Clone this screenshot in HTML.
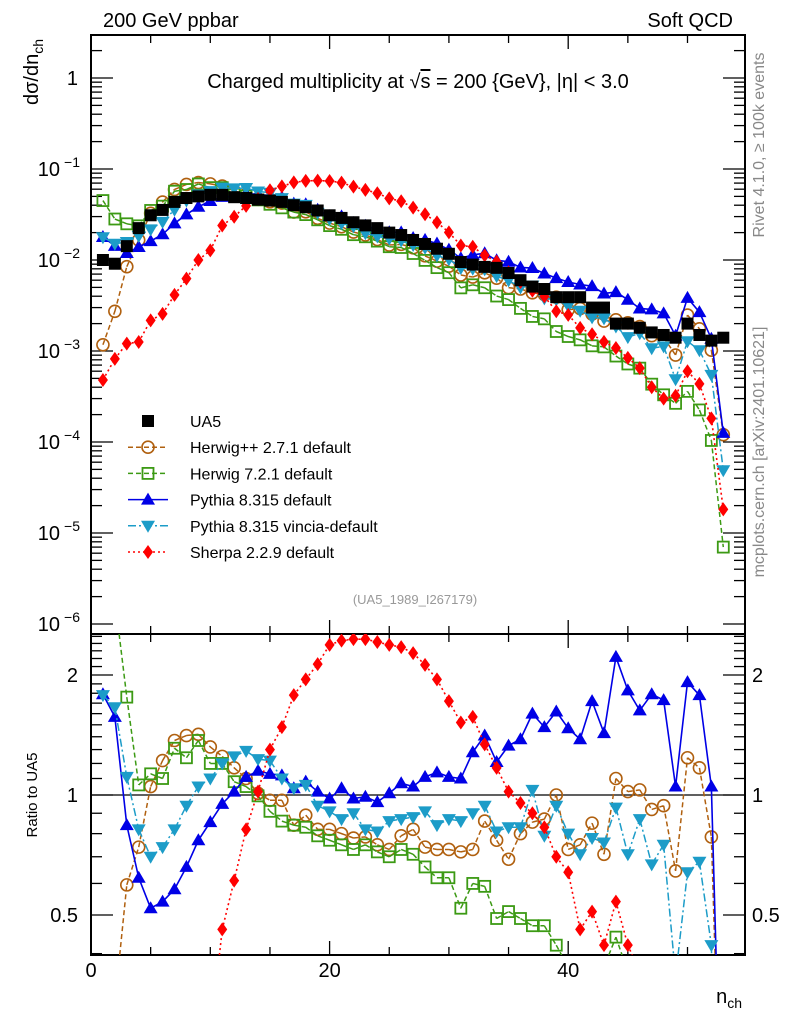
<!DOCTYPE html>
<html><head><meta charset="utf-8"><style>
html,body{margin:0;padding:0;background:#fff;width:786px;height:1024px;overflow:hidden}
svg{display:block;font-family:"Liberation Sans",sans-serif}
</style></head><body>
<svg id="chart" width="786" height="1024" viewBox="0 0 786 1024" xmlns="http://www.w3.org/2000/svg">
<defs>
<clipPath id="cm"><rect x="91" y="35" width="654" height="599"/></clipPath>
<clipPath id="cr"><rect x="91" y="634" width="654" height="321"/></clipPath>
</defs>
<text x="103" y="27" font-size="20">200 GeV ppbar</text>
<text x="733" y="27" font-size="20" text-anchor="end">Soft QCD</text>
<text x="418" y="88" font-size="20" text-anchor="middle">Charged multiplicity at √<tspan text-decoration="overline">s</tspan> = 200 {GeV}, |η| &lt; 3.0</text>
<text transform="translate(38,72) rotate(-90)" font-size="20" text-anchor="middle">dσ/dn<tspan font-size="14" dy="5">ch</tspan></text>
<text transform="translate(37,795) rotate(-90)" font-size="15" text-anchor="middle">Ratio to UA5</text>
<text transform="translate(764,145) rotate(-90)" font-size="16" fill="#888" text-anchor="middle">Rivet 4.1.0, ≥ 100k events</text>
<text transform="translate(764,452) rotate(-90)" font-size="16" fill="#888" text-anchor="middle">mcplots.cern.ch [arXiv:2401.10621]</text>
<text x="415" y="604" font-size="13" fill="#999" text-anchor="middle">(UA5_1989_I267179)</text>
<text x="742" y="1003" font-size="20" text-anchor="end">n<tspan font-size="14" dy="5">ch</tspan></text>
<g id="axes"></g>
<g id="main" clip-path="url(#cm)"></g>
<g id="ratio" clip-path="url(#cr)"></g>
<g id="legend"></g>
</svg>
<script>
const nVals = [];
for (let i = 1; i <= 53; i++) nVals.push(i);
const ua5 = [.0100,.0091,.0142,.0224,.031,.0355,.0435,.048,.050,.052,
.052,.049,.048,.046,.045,.0435,.040,.038,.035,.031,
.029,.026,.024,.0224,.020,.0188,.0166,.015,.0133,.0117,
.0095,.0089,.0084,.0082,.0072,.006,.0051,.0048,.0039,.0039,
.0039,.0030,.0030,.002,.002,.0018,.0016,.0015,.0014,.002,
.0015,.0013,.0014];
const herwigppRatio = [0.117,0.30,0.595,0.74,1.05,1.22,1.37,1.41,1.42,1.32,
1.25,1.17,1.10,1.01,0.97,0.97,0.84,0.89,0.82,0.82,
0.80,0.78,0.785,0.75,0.73,0.79,0.82,0.74,0.73,0.73,
0.72,0.73,0.86,0.77,0.69,0.80,0.855,0.87,1.0,0.73,
0.75,0.85,0.71,1.10,1.02,1.03,0.92,0.94,0.645,1.24,
1.17,0.785,0.086];
const herwig7Ratio = [4.5,3.1,1.76,1.06,1.13,1.10,1.31,1.24,1.37,1.20,
1.20,1.08,1.05,0.995,0.91,0.86,0.84,0.83,0.79,0.77,
0.75,0.73,0.75,0.72,0.70,0.73,0.71,0.66,0.62,0.62,
0.52,0.60,0.59,0.49,0.51,0.49,0.47,0.47,0.42,0.37,
0.34,0.38,0.37,0.44,0.36,0.36,0.27,0.22,0.19,0.18,
0.15,0.08,0.005];
const pythiaRatio = [1.79,1.57,0.84,0.62,0.52,0.54,0.58,0.66,0.77,0.855,
0.95,1.02,1.11,1.15,1.13,1.12,1.04,1.08,1.02,0.98,
1.04,0.98,0.99,0.96,1.01,1.07,1.05,1.11,1.14,1.11,
1.10,1.28,1.41,1.21,1.33,1.38,1.60,1.48,1.62,1.47,
1.38,1.72,1.43,2.22,1.83,1.63,1.79,1.73,1.05,1.92,
1.78,1.05,0.09];
const vinciaRatio = [1.78,1.66,1.11,0.82,0.70,0.74,0.82,0.94,1.05,1.10,
1.2,1.25,1.29,1.23,1.22,1.10,1.04,1.06,0.94,0.91,
0.87,0.90,0.82,0.81,0.86,0.87,0.88,0.91,0.84,0.87,
0.86,0.90,0.94,0.81,0.83,0.83,1.03,0.79,0.94,0.80,
0.71,0.78,0.76,0.93,0.71,0.87,0.67,0.75,0.35,0.64,
0.68,0.42,0.035];
const sherpaRatio = [0.048,0.09,0.085,0.056,0.07,0.072,0.095,0.13,0.20,0.245,
0.46,0.61,0.82,1.02,1.30,1.48,1.78,1.95,2.13,2.38,
2.44,2.46,2.46,2.42,2.38,2.35,2.27,2.12,1.95,1.72,
1.52,1.57,1.34,1.17,1.02,0.955,0.90,0.83,0.70,0.64,
0.46,0.51,0.42,0.54,0.42,0.36,0.25,0.2,0.23,0.3,
0.29,0.14,0.013];
const xTicks = [0, 20, 40];
const yTickExps = [0, -1, -2, -3, -4, -5, -6];
const ratioTicks = [0.5, 1, 2];

const NS = "http://www.w3.org/2000/svg";
const X = n => 91 + 11.93 * n;
const YM = v => 78 - 91 * Math.log10(v);
const YR = r => 795 - 120 * Math.log2(r);
function mk(tag, attrs, parent) {
  const e = document.createElementNS(NS, tag);
  for (const k in attrs) e.setAttribute(k, attrs[k]);
  parent.appendChild(e);
  return e;
}
// clip a polyline to a y-range, returning path data
function clippedPath(pts, ymin, ymax) {
  let d = '';
  for (let i = 0; i < pts.length - 1; i++) {
    let [x1, y1] = pts[i], [x2, y2] = pts[i + 1];
    let t0 = 0, t1 = 1;
    const dy = y2 - y1;
    if (dy === 0) { if (y1 < ymin || y1 > ymax) continue; }
    else {
      let ta = (ymin - y1) / dy, tb = (ymax - y1) / dy;
      if (ta > tb) [ta, tb] = [tb, ta];
      t0 = Math.max(t0, ta); t1 = Math.min(t1, tb);
      if (t0 > t1) continue;
    }
    const ax = x1 + (x2 - x1) * t0, ay = y1 + dy * t0;
    const bx = x1 + (x2 - x1) * t1, by = y1 + dy * t1;
    d += `M${ax.toFixed(2)},${ay.toFixed(2)}L${bx.toFixed(2)},${by.toFixed(2)}`;
  }
  return d || 'M0,0';
}
const axes = document.getElementById('axes');
const gMain = document.getElementById('main');
const gRatio = document.getElementById('ratio');
const gLeg = document.getElementById('legend');

let f = mk('rect', {x:91, y:35, width:654, height:599, fill:'none', stroke:'#000', 'stroke-width':2}, axes);


f = mk('rect', {x:91, y:634, width:654, height:321, fill:'none', stroke:'#000', 'stroke-width':2}, axes);


let ul = mk('line', {x1:91, x2:745, y1:YR(1), y2:YR(1), stroke:'#000', 'stroke-width':1.3}, axes);



for (let v = 0; v <= 54; v += 5) {
  const len = (v % 20 === 0) ? 14 : 8;
  [[35, 1], [634, -1], [634, 1], [955, -1]].forEach(([y, d]) => {
    const t = mk('line', {x1:X(v), x2:X(v), y1:y, y2:y + d * len, stroke:'#000', 'stroke-width':1.3}, axes);
    
    
  });
}
xTicks.forEach(v => {
  const t = mk('text', {x:X(v), y:977, 'font-size':20, 'text-anchor':'middle'}, axes);
  t.textContent = v;
  
  
});
for (let e = -6; e <= 0; e++) {
  for (let m = 1; m <= 9; m++) {
    const y = YM(m * Math.pow(10, e));
    if (y < 35 || y > 634) continue;
    const len = m === 1 ? 22 : 11;
    [[91, 1], [745, -1]].forEach(([x, d]) => {
      const t = mk('line', {x1:x, x2:x + d * len, y1:y, y2:y, stroke:'#000', 'stroke-width':1.3}, axes);
      
      
    });
  }
}
yTickExps.forEach(e => {
  const y = YM(Math.pow(10, e)) + 7;
  const t = mk('text', {x:e === 0 ? 78 : 60, y:y, 'font-size':20, 'text-anchor':'end'}, axes);
  
  
  if (e === 0) { t.textContent = '1'; }
  else {
    t.textContent = '10';
    const s = mk('tspan', {x:80, dy:-9, 'font-size':14, 'text-anchor':'end'}, t);
    s.textContent = '−' + (-e);
  }
});
for (let r = 0.4; r <= 2.56; r += 0.1) {
  const rr = Math.round(r * 10) / 10;
  const y = YR(rr);
  if (y < 634 || y > 955) continue;
  const major = ratioTicks.includes(rr);
  const len = major ? 22 : 11;
  [[91, 1], [745, -1]].forEach(([x, d]) => {
    const t = mk('line', {x1:x, x2:x + d * len, y1:y, y2:y, stroke:'#000', 'stroke-width':1.3}, axes);
    
    
  });
}
ratioTicks.forEach(r => {
  [[78, 'end'], [752, 'start']].forEach(([x, a]) => {
    const t = mk('text', {x:x, y:YR(r) + 7, 'font-size':20, 'text-anchor':a}, axes);
    t.textContent = r;
    
    
  });
});

function marker(kind, color, x, y, parent) {
  let e;
  if (kind === 'square') e = mk('rect', {x:x - 6, y:y - 6, width:12, height:12, fill:color}, parent);
  else if (kind === 'osquare') e = mk('rect', {x:x - 5.5, y:y - 5.5, width:11, height:11, fill:'none', stroke:color, 'stroke-width':1.8}, parent);
  else if (kind === 'circle') e = mk('circle', {cx:x, cy:y, r:6, fill:'none', stroke:color, 'stroke-width':1.6}, parent);
  else if (kind === 'up') e = mk('polygon', {points:`${x},${y - 7} ${x - 7},${y + 5} ${x + 7},${y + 5}`, fill:color}, parent);
  else if (kind === 'down') e = mk('polygon', {points:`${x},${y + 7} ${x - 7},${y - 5} ${x + 7},${y - 5}`, fill:color}, parent);
  else e = mk('polygon', {points:`${x},${y - 7} ${x - 5},${y} ${x},${y + 7} ${x + 5},${y}`, fill:color}, parent);
  return e;
}
const series = [
  {id:'herwigpp', name:'Herwig++ 2.7.1 default', ratio:herwigppRatio, color:'#b0600f', kind:'circle', dash:'5,3', w:1.5},
  {id:'herwig7', name:'Herwig 7.2.1 default', ratio:herwig7Ratio, color:'#3c9a14', kind:'osquare', dash:'5,3', w:1.5},
  {id:'pythia', name:'Pythia 8.315 default', ratio:pythiaRatio, color:'#0000e6', kind:'up', dash:'', w:1.6},
  {id:'vincia', name:'Pythia 8.315 vincia-default', ratio:vinciaRatio, color:'#1c9cc8', kind:'down', dash:'8,3,2,3', w:1.5},
  {id:'sherpa', name:'Sherpa 2.2.9 default', ratio:sherpaRatio, color:'#ff0000', kind:'diamond', dash:'2,3', w:1.6}
];
series.forEach(s => {
  const ptsM = nVals.map((n, i) => [X(n), YM(ua5[i] * s.ratio[i])]);
  const ptsR = nVals.map((n, i) => [X(n), YR(s.ratio[i])]);
  let l = mk('path', {d:clippedPath(ptsM, 35, 634), fill:'none', stroke:s.color, 'stroke-width':s.w, 'stroke-dasharray':s.dash}, gMain);
  
  
  l = mk('path', {d:clippedPath(ptsR, 634, 955), fill:'none', stroke:s.color, 'stroke-width':s.w, 'stroke-dasharray':s.dash}, gRatio);
  
  
  nVals.forEach((n, i) => {
    const ym = YM(ua5[i] * s.ratio[i]);
    if (ym > 30 && ym < 640) {
      const m = marker(s.kind, s.color, X(n), ym, gMain);
      
      
    }
    const yr = YR(s.ratio[i]);
    if (yr > 628 && yr < 961) {
      const m = marker(s.kind, s.color, X(n), yr, gRatio);
      
      
    }
  });
});
nVals.forEach((n, i) => {
  const m = marker('square', '#000', X(n), YM(ua5[i]), gMain);
  
  
});

const legRows = [{id:'ua5', name:'UA5', color:'#000', kind:'square', dash:null}].concat(series);
legRows.forEach((s, i) => {
  const y = 421 + i * 26.2;
  const g = mk('g', {}, gLeg);
  
  
  if (s.dash !== null) mk('line', {x1:128, x2:168, y1:y, y2:y, stroke:s.color, 'stroke-width':1.5, 'stroke-dasharray':s.dash}, g);
  marker(s.kind, s.color, 148, y, g);
  const t = mk('text', {x:190, y:y + 6, 'font-size':16}, g);
  t.textContent = s.name;
});
</script>
</body></html>
